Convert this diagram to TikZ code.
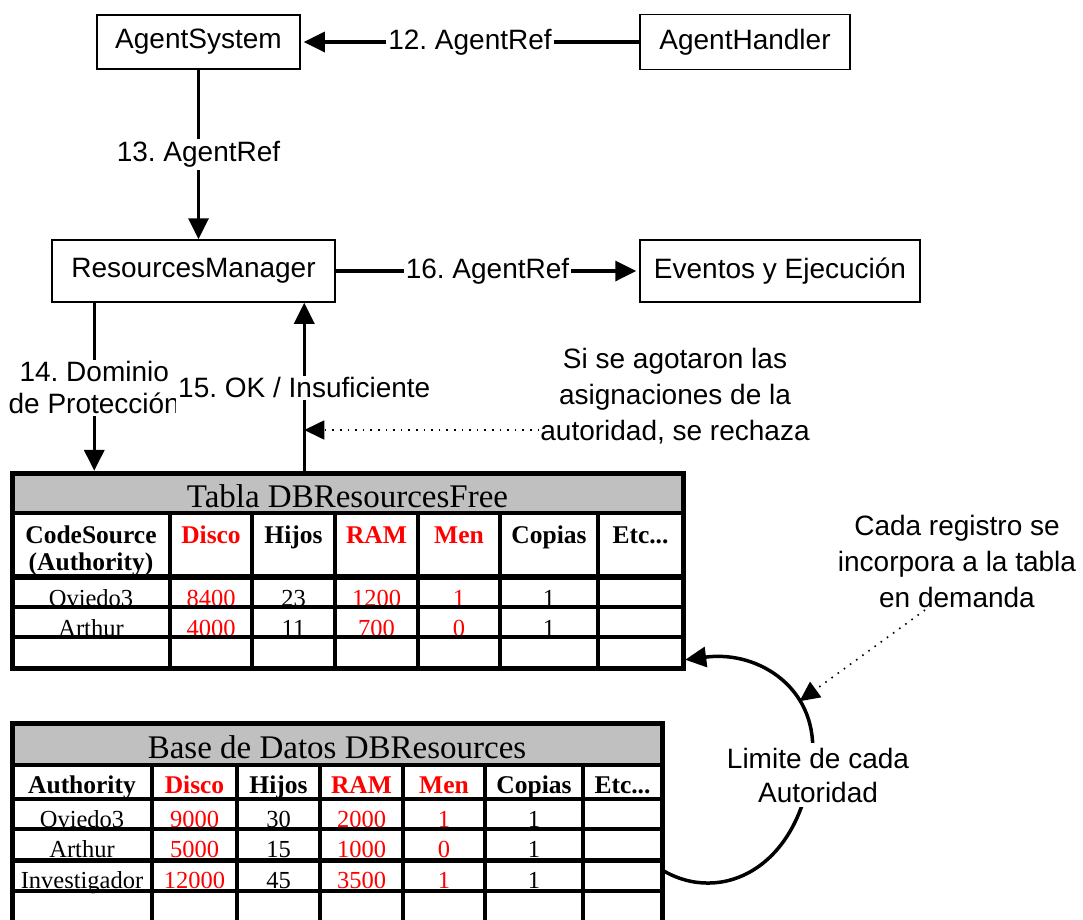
\documentclass[tikz,border=0pt]{standalone}
\usepackage{fontspec}
\setmainfont{Liberation Serif}
\setsansfont{Liberation Sans}
\usetikzlibrary{arrows.meta}
\definecolor{headgray}{RGB}{192,192,192}
\newcommand\etcword{Etc...}
\frenchspacing

\begin{document}
\begin{tikzpicture}[x=1pt, y=-1pt,
  sans/.style={font=\sffamily\fontsize{28}{34}\selectfont},
  box/.style={sans, draw, line width=1.5pt, inner sep=0pt},
  flow/.style={line width=3.5pt, -{Triangle[length=21pt,width=20pt]}},
  lbl/.style={sans, fill=white, inner sep=2pt, align=center},
  note/.style={align=center, inner sep=1pt, font=\sffamily\fontsize{28}{36}\selectfont},
  hint/.style={line width=1.6pt, dash pattern=on 1.6pt off 6pt, -{Triangle[length=20pt,width=19pt]}},
  ttitle/.style={anchor=base, inner sep=0pt, font=\fontsize{33}{38}\selectfont},
  thead/.style={anchor=base, inner sep=0pt, font=\bfseries\fontsize{25.5}{27}\selectfont},
  tcell/.style={anchor=base, inner sep=0pt, font=\fontsize{24.5}{28}\selectfont},
  outer/.style={line width=5pt},
  grid/.style={line width=4pt},
]
\useasboundingbox (0,0) rectangle (1083,919);

% ---------- component boxes ----------
\node[box, minimum width=203pt, minimum height=54pt] (as) at (198.5,42) {AgentSystem};
\node[box, minimum width=210pt, minimum height=55pt] (ah) at (745,42) {AgentHandler};
\node[box, minimum width=283pt, minimum height=62pt] (rm) at (193.5,271) {ResourcesManager};
\node[box, minimum width=280pt, minimum height=62pt] (ev) at (780,271) {Eventos y Ejecución};

% ---------- table frames ----------
\node[minimum width=671pt, minimum height=195pt, inner sep=0pt] (free) at (347.5,570.5) {};
\node[minimum width=650pt, minimum height=201pt, inner sep=0pt] (db) at (337,823.5) {};

% ---------- message arrows ----------
\draw[flow, shorten >=3pt] (ah.west) -- node[lbl] (m12) {12. AgentRef} (as.east);
\draw[flow] (as.south) -- node[lbl] (m13) {13. AgentRef} (as.south |- rm.north);
\draw[flow, shorten >=3pt] (rm.east) -- node[lbl] (m16) {16. AgentRef} (ev.west);

\coordinate (d14) at ([xshift=43pt]rm.south west);
\coordinate (u15) at ([xshift=253pt]rm.south west);
\draw[flow, shorten >=2pt] (d14) -- (d14 |- free.north);
\begin{scope}
  \clip (0,340) rectangle (175,432);
  \path (d14) -- node[lbl, font=\sffamily\fontsize{28}{32}\selectfont] (m14) {14. Dominio\\de Protección} (d14 |- free.north);
\end{scope}
\draw[flow] (u15 |- free.north) -- node[lbl] (m15) {15. OK / Insuficiente} (u15);

% rejection note
\node[note] (agot) at (675,396) {Si se agotaron las\\asignaciones de la\\autoridad, se rechaza};
\coordinate (rej) at (u15 |- 0,430);
\draw[hint] (agot.west |- rej) -- (rej);

% ---------- Tabla DBResourcesFree ----------
\fill[headgray] (12,473) rectangle (683,513);
\node[ttitle] (freetitle) at (347.5,507) {Tabla DBResourcesFree};
\node[thead] (fh0a) at (91,543) {CodeSource};
\node[thead] (fh0b) at (91,570) {(Authority)};
\foreach \x/\t/\c [count=\i] in {211/Disco/red, 293.5/Hijos/black, 376.5/RAM/red, 459/Men/red, 549/Copias/black, 640.5/\etcword/black}
  \node[thead, text=\c] (fh\i) at (\x,543) {\t};
\foreach \y/\a/\b/\h/\r/\m/\p [count=\j] in {606/Oviedo3/8400/23/1200/1/1, 636/Arthur/4000/11/700/0/1} {
  \node[tcell] (fa\j) at (91,\y) {\a};
  \node[tcell, text=red] (fb\j) at (211,\y) {\b};
  \node[tcell] (fc\j) at (293.5,\y) {\h};
  \node[tcell, text=red] (fd\j) at (376.5,\y) {\r};
  \node[tcell, text=red] (fe\j) at (459,\y) {\m};
  \node[tcell] (ff\j) at (549,\y) {\p};
}
\draw[grid] (12,513) -- (683,513);
\draw[line width=5.5pt] (12,577) -- (683,577);
\foreach \y in {607,637} \draw[grid] (12,\y) -- (683,\y);
\foreach \x in {170,252,335,418,500,598} \draw[grid] (\x,513) -- (\x,668);
\draw[outer] (12,473) rectangle (683,668);

% ---------- Base de Datos DBResources ----------
\fill[headgray] (12,723) rectangle (662,765);
\node[ttitle] (dbtitle) at (337,758) {Base de Datos DBResources};
\foreach \x/\t/\c [count=\i] in {82/Authority/black, 194.5/Disco/red, 278.5/Hijos/black, 361.5/RAM/red, 444/Men/red, 534/Copias/black, 622.5/\etcword/black}
  \node[thead, text=\c] (dh\i) at (\x,793) {\t};
\foreach \y/\a/\b/\h/\r/\m/\p [count=\j] in {827/Oviedo3/9000/30/2000/1/1, 857/Arthur/5000/15/1000/0/1, 888/Investigador/12000/45/3500/1/1} {
  \node[tcell] (da\j) at (82,\y) {\a};
  \node[tcell, text=red] (db\j) at (194.5,\y) {\b};
  \node[tcell] (dc\j) at (278.5,\y) {\h};
  \node[tcell, text=red] (dd\j) at (361.5,\y) {\r};
  \node[tcell, text=red] (de\j) at (444,\y) {\m};
  \node[tcell] (df\j) at (534,\y) {\p};
}
\draw[grid] (12,765) -- (662,765);
\foreach \y in {799,829,891} \draw[line width=3.5pt] (12,\y) -- (662,\y);
\draw[line width=5pt] (12,860) -- (662,860);
\foreach \x in {152,237,320,403,485,583} \draw[grid] (\x,765) -- (\x,924);
\draw[outer] (12,723) rectangle (662,924);

% ---------- authority limit loop ----------
\coordinate (limfrom) at ([yshift=-46.5pt]db.east);
\coordinate (limto) at ([yshift=-89.5pt]free.east);
\draw[line width=3.5pt, -{Triangle[length=21pt,width=20pt]}, shorten >=2pt]
  (limfrom) .. controls (720,905) and (800,870) .. (812,760)
  .. controls (820,690) and (760,650) .. coordinate[pos=0.33] (hit) (limto);
\node[lbl, inner sep=5pt] (lim) at (818,775) {Limite de cada\\Autoridad};

\node[note] (cada) at (957,561) {Cada registro se\\incorpora a la tabla\\en demanda};
\coordinate (cadafoot) at (925,610);
\draw[hint] (cadafoot) -- (hit);

\end{tikzpicture}
\end{document}
